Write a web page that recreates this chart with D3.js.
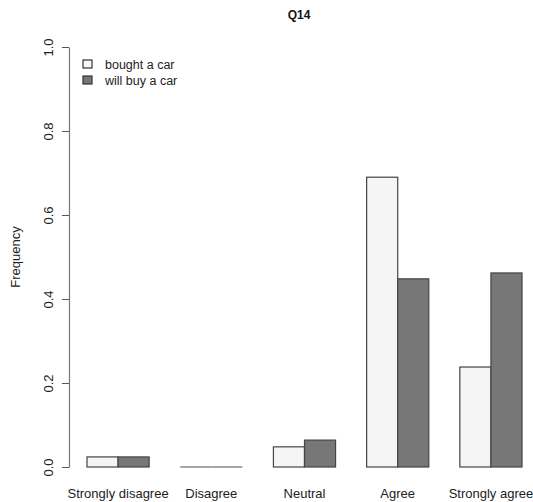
<!DOCTYPE html>
<html><head><meta charset="utf-8">
<script src="https://cdn.jsdelivr.net/npm/d3@7"></script>
<style>body{margin:0;background:#fff}svg{display:block;font-family:"Liberation Sans",Arial,sans-serif}</style>
</head><body>
<script>
const categories = ["Strongly disagree","Disagree","Neutral","Agree","Strongly agree"];
const seriesNames = ["bought a car","will buy a car"];
const boughtCar = [0.024, 0, 0.048, 0.690, 0.238];
const willBuyCar = [0.024, 0, 0.064, 0.448, 0.462];
const yTicks = [0, 0.2, 0.4, 0.6, 0.8, 1.0];
const colors = ["#f5f5f5", "#777777"];

const W = 533, H = 502;
const svg = d3.select("body").append("svg").attr("width", W).attr("height", H);

// unit positions like R barplot (space = c(0,1))
const x = d3.scaleLinear().domain([1, 15]).range([87, 522]);
const y = d3.scaleLinear().domain([0, 1]).range([467, 47]);

const series = [boughtCar, willBuyCar];
categories.forEach((c, i) => {
  const start = 1 + i * 3;
  series.forEach((vals, s) => {
    const v = vals[i];
    const x0 = x(start + s), x1 = x(start + s + 1);
    if (v > 0) {
      svg.append("rect").attr("x", x0).attr("y", y(v))
        .attr("width", x1 - x0).attr("height", y(0) - y(v))
        .attr("fill", colors[s]).attr("stroke", "#444").attr("stroke-width", 1.2);
    } else {
      svg.append("line").attr("x1", x0).attr("x2", x1).attr("y1", y(0)).attr("y2", y(0))
        .attr("stroke", "#888").attr("stroke-width", 1.5);
    }
  });
  svg.append("text").attr("x", x(start + 1)).attr("y", 498)
    .attr("text-anchor", "middle").attr("font-size", 13).attr("fill", "#222").text(c);
});

// y axis
const yAxis = d3.axisLeft(y).tickValues(yTicks).tickFormat(d3.format(".1f")).tickSize(7).tickSizeOuter(0);
const g = svg.append("g").attr("transform", "translate(69,0)").call(yAxis);
g.select(".domain").attr("stroke", "#777").attr("stroke-width", 1.2);
g.selectAll(".tick line").attr("stroke", "#555");
g.selectAll(".tick text").attr("font-size", 13).attr("fill", "#222")
  .attr("font-family", "Liberation Sans, Arial, sans-serif")
  .attr("text-anchor", "middle").attr("x", 0).attr("dy", 0)
  .attr("transform", "translate(-16,0) rotate(-90)");

svg.append("text").attr("transform", "translate(20,257) rotate(-90)")
  .attr("text-anchor", "middle").attr("font-size", 13).attr("fill", "#222").text("Frequency");

svg.append("text").attr("x", 299).attr("y", 19).attr("text-anchor", "middle")
  .attr("font-size", 12).attr("font-weight", "bold").attr("fill", "#111").text("Q14");

// legend
seriesNames.forEach((n, s) => {
  const ly = 64 + s * 16;
  svg.append("rect").attr("x", 83).attr("y", ly - 4).attr("width", 9).attr("height", 8)
    .attr("fill", colors[s]).attr("stroke", "#333").attr("stroke-width", 1.2);
  svg.append("text").attr("x", 105).attr("y", ly + 5).attr("font-size", 12.5).attr("fill", "#222").text(n);
});
</script>
</body></html>
